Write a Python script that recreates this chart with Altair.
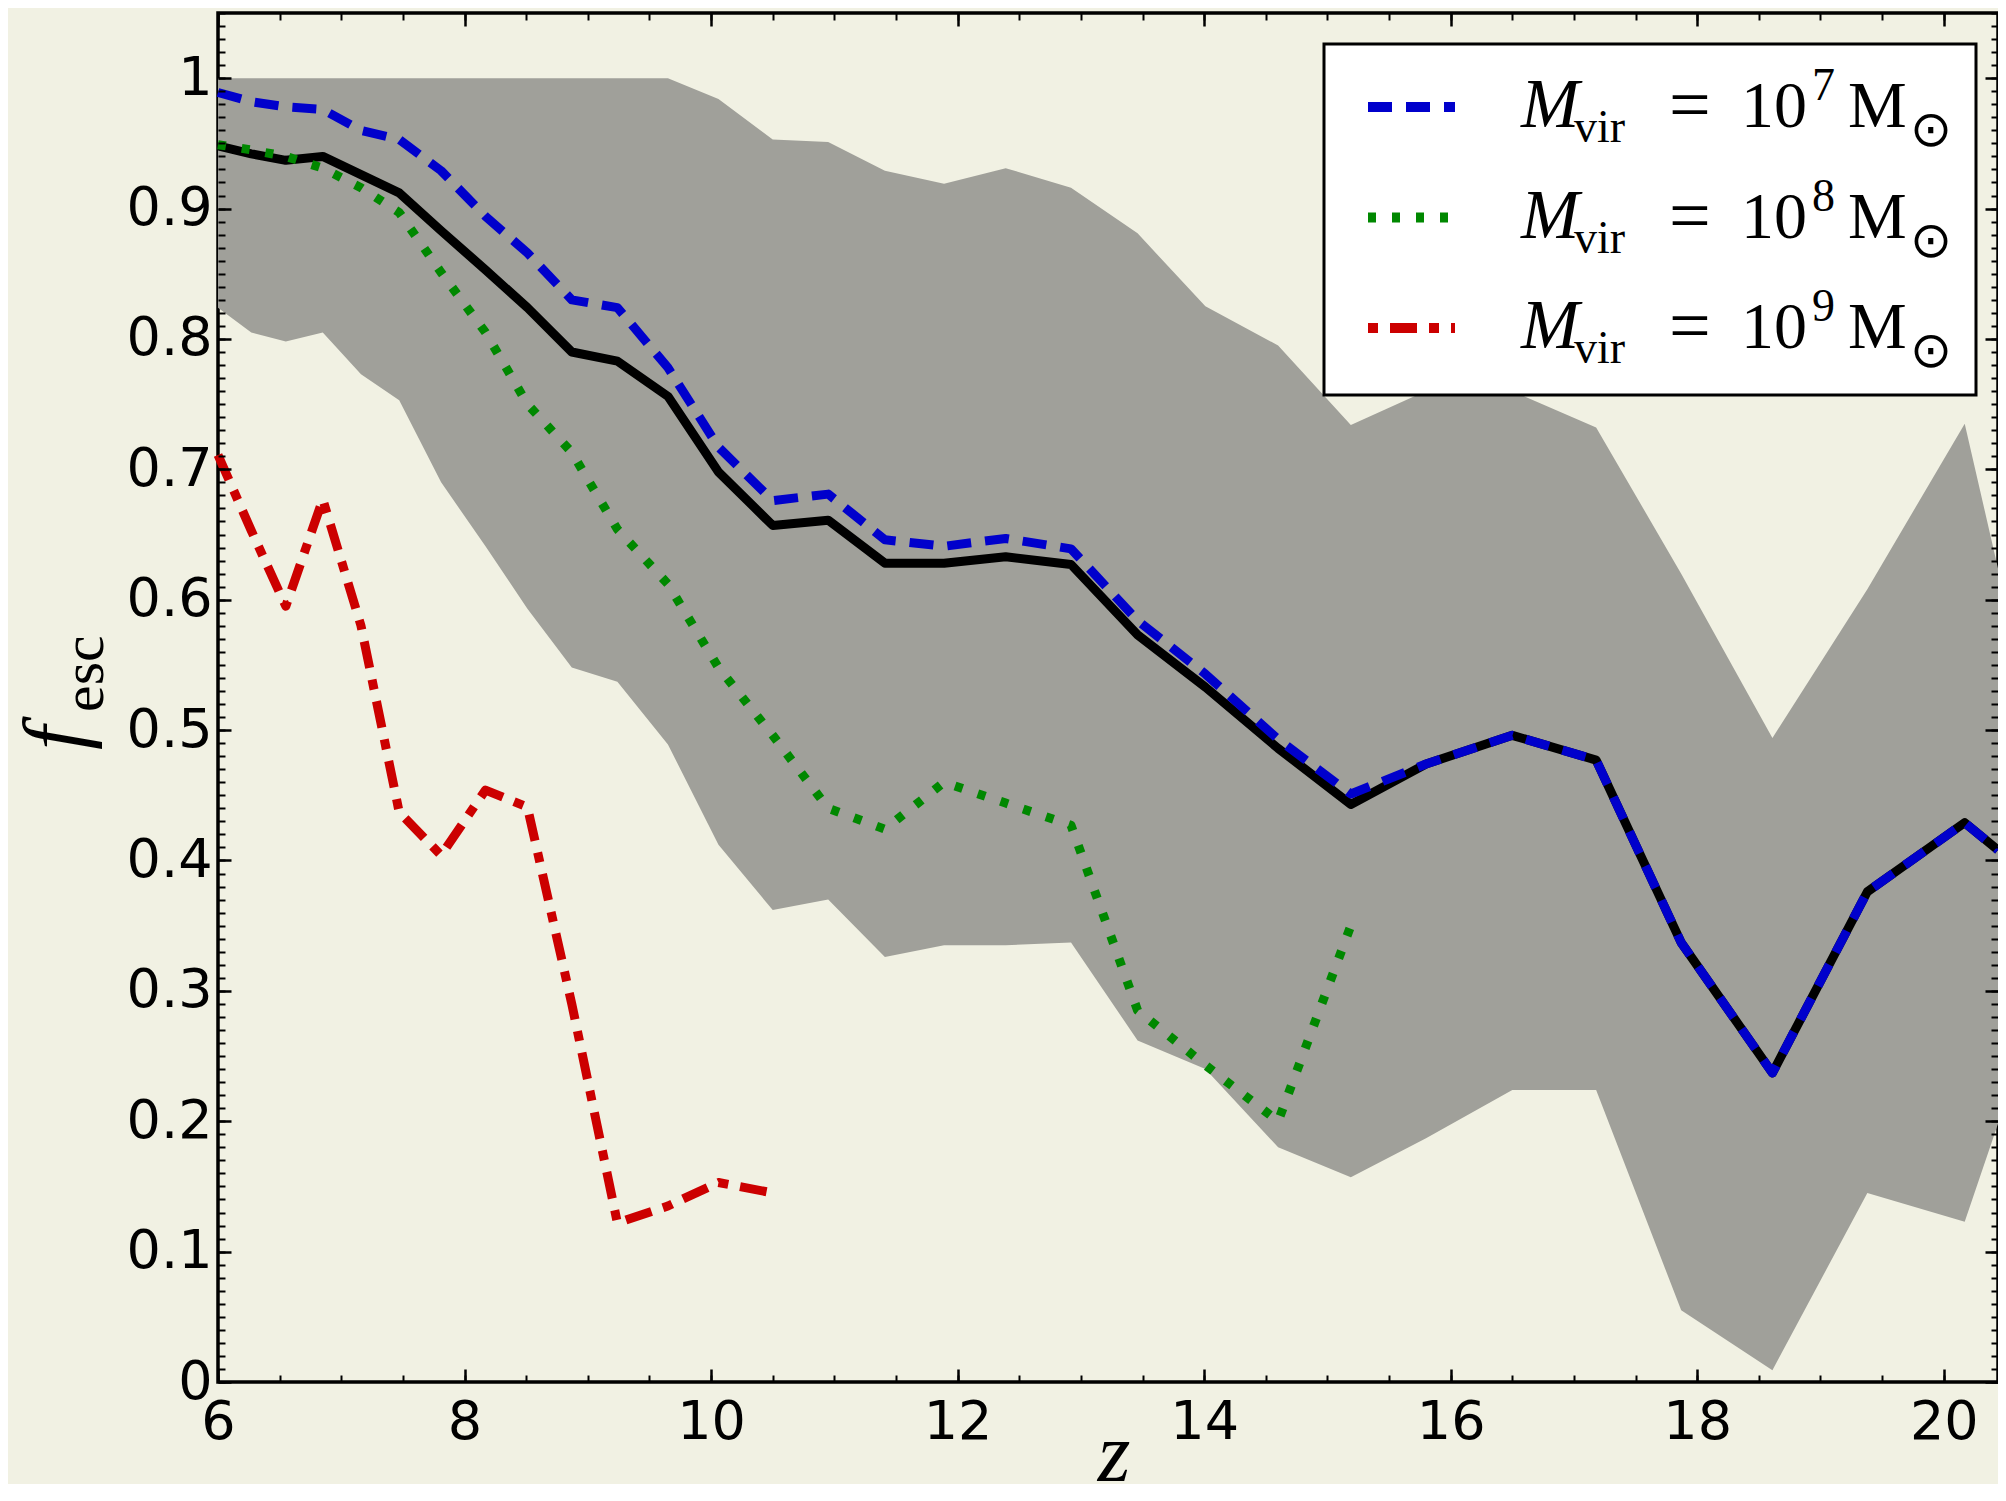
import altair as alt
import pandas as pd

# ---------------- data ----------------
z_snap = [6.00, 6.27, 6.55, 6.85, 7.16, 7.47, 7.81, 8.17, 8.51, 8.87, 9.24, 9.65,
          10.06, 10.50, 10.95, 11.41, 11.89, 12.39, 12.92, 13.46, 14.01, 14.60,
          15.19, 15.80, 16.50, 17.18, 17.87, 18.61, 19.38, 20.17, 20.44]

band_hi = [1.0, 1.0, 1.0, 1.0, 1.0, 1.0, 1.0, 1.0, 1.0, 1.0, 1.0, 1.0,
           0.984, 0.953, 0.951, 0.929, 0.919, 0.931, 0.916, 0.881, 0.825, 0.795,
           0.734, 0.760, 0.760, 0.732, 0.620, 0.494, 0.608, 0.735, 0.624]
band_lo = [0.824, 0.805, 0.798, 0.805, 0.773, 0.753, 0.690, 0.641, 0.593, 0.548, 0.537, 0.489,
           0.412, 0.362, 0.370, 0.326, 0.335, 0.335, 0.337, 0.262, 0.240, 0.180,
           0.157, 0.187, 0.224, 0.224, 0.055, 0.009, 0.145, 0.123, 0.198]

f_all = [0.948, 0.942, 0.937, 0.940, 0.926, 0.912, 0.883, 0.853, 0.824, 0.790, 0.783, 0.756,
         0.698, 0.657, 0.661, 0.628, 0.628, 0.633, 0.627, 0.573, 0.533, 0.486,
         0.443, 0.474, 0.496, 0.477, 0.337, 0.237, 0.376, 0.429, 0.408]
f_1e7 = [0.989, 0.982, 0.978, 0.976, 0.960, 0.953, 0.929, 0.894, 0.866, 0.830, 0.824, 0.778,
         0.717, 0.676, 0.681, 0.646, 0.641, 0.647, 0.639, 0.584, 0.543, 0.493,
         0.451, 0.474, 0.496, 0.477, 0.337, 0.237, 0.376, 0.429, 0.408]
f_1e8 = [0.949, 0.945, 0.940, 0.931, 0.916, 0.897, 0.851, 0.805, 0.750, 0.713, 0.654, 0.612,
         0.548, 0.496, 0.440, 0.424, 0.460, 0.444, 0.427, 0.285, 0.243, 0.200, 0.350]
f_1e9 = [0.711, 0.653, 0.595, 0.677, 0.580, 0.437, 0.404, 0.454, 0.441, 0.290, 0.122, 0.135,
         0.153, 0.145]

legend_exponents = ["7", "8", "9"]

x_major = [6, 8, 10, 12, 14, 16, 18, 20]
y_major = [0, 0.1, 0.2, 0.3, 0.4, 0.5, 0.6, 0.7, 0.8, 0.9, 1.0]
x_minor = [6 + 0.5 * i for i in range(29)]
y_minor = [round(0.01 * i, 2) for i in range(106)]

# ---------------- styling ----------------
BG = "#f1f1e3"
GRAY = "#a0a09a"
BLUE = "#0000cc"
GREEN = "#008800"
RED = "#cc0000"
LW = 9
DASH_BLUE = [24, 14]
DASH_GREEN = [8, 16]
DASH_RED = [27, 12, 10, 12]

X_SCALE = alt.Scale(domain=[6, 20.44], nice=False, zero=False)
Y_SCALE = alt.Scale(domain=[0, 1.05], nice=False, zero=False)


def mk_axis(orient, values, size, labels, pad=0, width=2.5):
    kw = dict(orient=orient, values=values, tickSize=size, offset=-size, labels=labels,
              domain=False, grid=False, ticks=True, tickColor="black", tickWidth=width,
              title=None, zindex=2)
    if labels:
        kw.update(labelFont="DejaVu Sans", labelFontSize=54, labelColor="black",
                  labelPadding=pad, labelFlush=False, labelOverlap=False,
                  labelBound=False, format="~g")
    return alt.Axis(**kw)


band_df = pd.DataFrame({"z": z_snap, "lo": band_lo, "hi": band_hi})


def series_df(vals):
    return pd.DataFrame({"z": z_snap[:len(vals)], "f": vals})


band = alt.Chart(band_df).mark_area(color=GRAY, opacity=1).encode(
    x=alt.X("z:Q", scale=X_SCALE, axis=mk_axis("bottom", x_major, 13, True, pad=13)),
    y=alt.Y("lo:Q", scale=Y_SCALE, axis=mk_axis("left", y_major, 13, True, pad=6)),
    y2="hi:Q",
)

black = alt.Chart(series_df(f_all)).mark_line(
    color="black", strokeWidth=LW, strokeJoin="round", strokeCap="butt"
).encode(
    x=alt.X("z:Q", scale=X_SCALE, axis=mk_axis("bottom", x_minor, 7, False, width=2)),
    y=alt.Y("f:Q", scale=Y_SCALE, axis=mk_axis("left", y_minor, 7, False, width=2)),
)

blue = alt.Chart(series_df(f_1e7)).mark_line(
    color=BLUE, strokeWidth=LW, strokeDash=DASH_BLUE, strokeJoin="round", strokeCap="butt"
).encode(
    x=alt.X("z:Q", scale=X_SCALE, axis=mk_axis("top", x_major, 13, False)),
    y=alt.Y("f:Q", scale=Y_SCALE, axis=mk_axis("right", y_major, 13, False)),
)

green = alt.Chart(series_df(f_1e8)).mark_line(
    color=GREEN, strokeWidth=LW, strokeDash=DASH_GREEN, strokeJoin="round", strokeCap="butt"
).encode(
    x=alt.X("z:Q", scale=X_SCALE, axis=mk_axis("top", x_minor, 7, False, width=2)),
    y=alt.Y("f:Q", scale=Y_SCALE, axis=mk_axis("right", y_minor, 7, False, width=2)),
)

red = alt.Chart(series_df(f_1e9)).mark_line(
    color=RED, strokeWidth=LW, strokeDash=DASH_RED, strokeJoin="round", strokeCap="butt"
).encode(
    x=alt.X("z:Q", scale=X_SCALE, axis=None),
    y=alt.Y("f:Q", scale=Y_SCALE, axis=None),
)

one = pd.DataFrame({"k": [0]})


def txt(text, x, y, size, font="Liberation Serif", style="normal", angle=0, align="left"):
    return alt.Chart(one).mark_text(
        text=text, font=font, fontSize=size, fontStyle=style, fontWeight="normal",
        color="black", align=align, baseline="alphabetic", angle=angle
    ).encode(x=alt.value(x), y=alt.value(y))


layers = [band, black, blue, green, red]

# legend box
layers.append(
    alt.Chart(one).mark_rect(fill="white", stroke="black", strokeWidth=3).encode(
        x=alt.value(1106), x2=alt.value(1758), y=alt.value(31), y2=alt.value(382)
    )
)

legend_styles = [(BLUE, DASH_BLUE, 0), (GREEN, DASH_GREEN, 0), (RED, DASH_RED, 39)]
for i, (exp, (col, dash, doff)) in enumerate(zip(legend_exponents, legend_styles)):
    dy = 110.5 * i
    layers.append(
        alt.Chart(one).mark_rule(color=col, strokeWidth=10, strokeDash=dash,
                                 strokeDashOffset=doff, strokeCap="butt").encode(
            x=alt.value(1150), x2=alt.value(1237), y=alt.value(94 + dy)
        )
    )
    layers += [
        txt("M", 1303, 114 + dy, 70, style="italic"),
        txt("vir", 1356, 129 + dy, 46),
        txt("=", 1451, 116 + dy, 74),
        txt("10", 1523, 114 + dy, 66),
        txt(exp, 1594, 87 + dy, 46),
        txt("M", 1630, 114 + dy, 66),
        txt("\u2299", 1692, 133 + dy, 50, font="DejaVu Sans"),
    ]

# axis titles
layers += [
    txt("f", -135, 737, 86, style="italic", angle=270),
    txt("esc", -115, 699, 60, angle=270),
    txt("z", 896, 1468, 84, style="italic", align="center"),
]

chart = alt.layer(*layers).resolve_axis(
    x="independent", y="independent"
).properties(
    width=1780,
    height=1369,
    autosize=alt.AutoSizeParams(type="none"),
    padding={"left": 210, "top": 5, "right": 0, "bottom": 102},
    background=BG,
).configure_view(
    stroke="black", strokeWidth=3.5, fill=None
).configure_axis(grid=False)

chart.save("out.html", embed_options={"renderer": "svg", "actions": False})
